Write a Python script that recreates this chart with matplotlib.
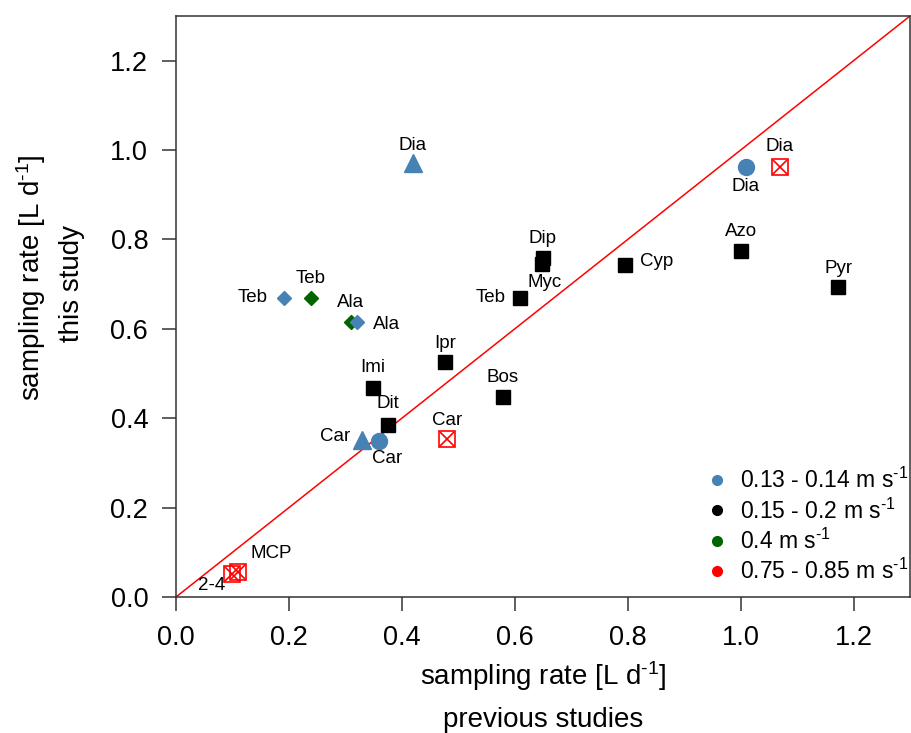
import matplotlib
matplotlib.use("Agg")
import matplotlib.pyplot as plt
from matplotlib.lines import Line2D

# substance names, previous studies (x) vs this study (y)
names = ["Dia", "Dia", "Dia", "Azo", "Pyr", "Cyp", "Dip", "Myc", "Teb", "Teb",
         "Teb", "Ala", "Ala", "Ipr", "Imi", "Bos", "Dit", "Car", "Car", "Car",
         "MCP", "2-4"]
x_prev = [0.419, 1.009, 1.069, 1.000, 1.173, 0.795, 0.650, 0.648, 0.609, 0.191,
          0.239, 0.310, 0.320, 0.476, 0.349, 0.579, 0.375, 0.329, 0.359, 0.480,
          0.110, 0.099]
y_this = [0.970, 0.963, 0.963, 0.775, 0.693, 0.742, 0.758, 0.744, 0.670, 0.670,
          0.670, 0.615, 0.615, 0.525, 0.467, 0.447, 0.384, 0.351, 0.349, 0.353,
          0.056, 0.051]
# flow velocity class of each point and the marker shape used
vel_class = ["blue", "blue", "red", "black", "black", "black", "black", "black", "black", "blue",
             "green", "green", "blue", "black", "black", "black", "black", "blue", "blue", "red",
             "red", "red"]
shape = ["^", "o", "boxx", "s", "s", "s", "s", "s", "s", "D",
         "D", "D", "D", "s", "s", "s", "s", "^", "o", "boxx",
         "boxx", "boxx"]
sup = "$^{\u2010" + "1}$"
legend_labels = ["0.13 - 0.14 m s" + sup, "0.15 - 0.2 m s" + sup,
                 "0.4 m s" + sup, "0.75 - 0.85 m s" + sup]

# label placement (offset in pixels, horizontal alignment)
lab_pos = [(0, 18, "center"), (0, -20, "center"), (0, 20, "center"), (0, 19, "center"),
           (0, 19, "center"), (15, 4, "left"), (0, 20, "center"), (3, -18, "center"),
           (-14, 0, "right"), (-16, 0, "right"), (0, 19, "center"), (0, 20, "center"),
           (16, -2, "left"), (0, 19, "center"), (0, 21, "center"), (0, 20, "center"),
           (0, 22, "center"), (-12, 4, "right"), (8, -17, "center"), (0, 19, "center"),
           (12, 18, "left"), (-7, -11, "right")]

colors = {"blue": "#4682B4", "black": "black", "green": "#006400", "red": "red"}
size = {"^": 13, "o": 11.5, "s": 10.5, "D": 7.5, "boxx": 11}

plt.rcParams['font.family'] = ['Liberation Sans', 'DejaVu Sans']
plt.rcParams['mathtext.default'] = 'regular'

fig = plt.figure(figsize=(9.11, 7.33), dpi=100)
ax = fig.add_axes([176/911, 1-597/733, 734/911, 581/733])

ax.plot([0, 1.3], [0, 1.3], color="red", lw=1.1, zorder=1)

for x, y, c, m in zip(x_prev, y_this, vel_class, shape):
    col = colors[c]
    if m == "boxx":
        ax.plot(x, y, marker="s", ms=size[m], mfc="none", mec=col, mew=1.2, ls="", zorder=3)
        ax.plot(x, y, marker="x", ms=size[m]*0.9, mec=col, mew=1.2, ls="", zorder=3)
    else:
        ax.plot(x, y, marker=m, ms=size[m], color=col, mec=col, ls="", zorder=3)

for x, y, n, (dx, dy, ha) in zip(x_prev, y_this, names, lab_pos):
    ax.annotate(n, (x, y), xytext=(dx*0.72, dy*0.72), textcoords="offset points",
                ha=ha, va="center", fontsize=13.5)

ax.set_xlim(0, 1.3)
ax.set_ylim(0, 1.3)
ticks = [0.0, 0.2, 0.4, 0.6, 0.8, 1.0, 1.2]
ax.set_xticks(ticks)
ax.set_yticks(ticks)
ax.set_xticklabels(["%.1f" % t for t in ticks])
ax.set_yticklabels(["%.1f" % t for t in ticks])
ax.tick_params(direction="out", length=10, width=1.1, colors="#333333",
               labelcolor="black", labelsize=19.5, pad=10)
for sp in ax.spines.values():
    sp.set_color("#333333")
    sp.set_linewidth(1.1)

fig.text(543/911, 1-685/733, "sampling rate [L d" + sup + "]", ha="center", va="baseline", fontsize=20)
fig.text(543/911, 1-727/733, "previous studies", ha="center", va="baseline", fontsize=20)
fig.text(31/911, 1-278/733, "sampling rate [L d" + sup + "]", ha="center", va="center",
         rotation=90, fontsize=20)
fig.text(72/911, 1-284/733, "this study", ha="center", va="center", rotation=90, fontsize=20)

handles = [Line2D([], [], marker="o", ls="", color=colors[k], ms=7)
           for k in ["blue", "black", "green", "red"]]
ax.legend(handles, legend_labels, loc="upper left", bbox_to_anchor=(708/911, 1-468/733),
          bbox_transform=fig.transFigure, frameon=False, fontsize=16.5, handlelength=0.8,
          handletextpad=0.6, labelspacing=0.22, borderpad=0, borderaxespad=0)

fig.savefig("out.png", dpi=100)
